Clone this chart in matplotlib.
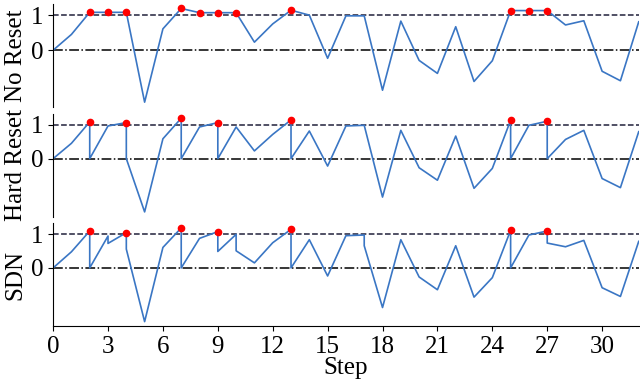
import matplotlib
matplotlib.use('Agg')
import matplotlib.pyplot as plt

plt.rcParams['font.family'] = ['Liberation Serif', 'DejaVu Serif']
plt.rcParams['font.size'] = 18

steps = list(range(33))

no_reset = [0, 0.45, 1.08, 1.08, 1.08, -1.48, 0.61, 1.19, 1.07, 1.07, 1.07, 0.23, 0.75, 1.14, 1.0, -0.23,
            0.98, 0.98, -1.14, 0.83, -0.29, -0.66, 0.67, -0.89, -0.30, 1.13, 1.13, 1.13, 0.72, 0.84,
            -0.60, -0.87, 0.81]

hard_reset = [0, 0.455, 1.09, 0.97, 1.07, -1.58, 0.59, 1.2, 0.94, 1.07, 0.94, 0.23, 0.72, 1.15, 0.82, -0.22,
              0.97, 0.99, -1.14, 0.84, -0.27, -0.64, 0.67, -0.88, -0.29, 1.14, 0.99, 1.11, 0.57, 0.84,
              -0.59, -0.86, 0.80]
hard_after = {2: 0, 4: 0, 7: 0, 9: 0, 13: 0, 25: 0, 27: 0}

sdn = [0, 0.48, 1.1, 0.95, 1.05, -1.6, 0.61, 1.19, 0.88, 1.08, 1.0, 0.15, 0.75, 1.15, 0.84, -0.24,
       0.96, 0.98, -1.18, 0.84, -0.27, -0.65, 0.66, -0.87, -0.29, 1.12, 0.98, 1.1, 0.63, 0.82,
       -0.59, -0.85, 0.79]
sdn_after = {2: 0, 3: 0.73, 4: 0.56, 7: 0, 9: 0.49, 10: 0.51, 13: 0, 17: 0.66, 25: 0, 27: 0.74}

names = ['No Reset', 'Hard Reset', 'SDN']
series = [no_reset, hard_reset, sdn]
afters = [{}, hard_after, sdn_after]

fig, axes = plt.subplots(3, 1, figsize=(6.4, 3.79), dpi=100, sharex=True)
fig.subplots_adjust(left=0.083, right=0.998, top=0.99, bottom=0.139, hspace=0.065)

for ax, name, vals, after in zip(axes, names, series, afters):
    xs, ys = [], []
    for s, v in zip(steps, vals):
        xs.append(s)
        ys.append(v)
        if s in after:
            xs.append(s)
            ys.append(after[s])
    ax.axhline(1, color='#20203a', linestyle='--', linewidth=1.1, zorder=1)
    ax.axhline(0, color='black', linestyle='-.', linewidth=1.1, zorder=1)
    ax.plot(xs, ys, color='#3a76c4', linewidth=1.2, zorder=2)
    sx = [s for s, v in zip(steps, vals) if v > 1.02]
    sy = [v for v in vals if v > 1.02]
    ax.plot(sx, sy, 'o', color='red', markersize=4.5, zorder=3)
    ax.set_yticks([0, 1])
    ax.set_ylabel(name, labelpad=3)
    ax.spines['top'].set_visible(False)
    ax.spines['right'].set_visible(False)
    ax.set_xlim(0, 32)

for ax in axes[:2]:
    ax.spines['bottom'].set_visible(False)
    ax.tick_params(axis='x', bottom=False)

axes[2].set_xticks(range(0, 31, 3))
axes[2].set_xlabel('Step', labelpad=-1)
fig.align_ylabels(axes)

fig.savefig('out.png', dpi=100)
